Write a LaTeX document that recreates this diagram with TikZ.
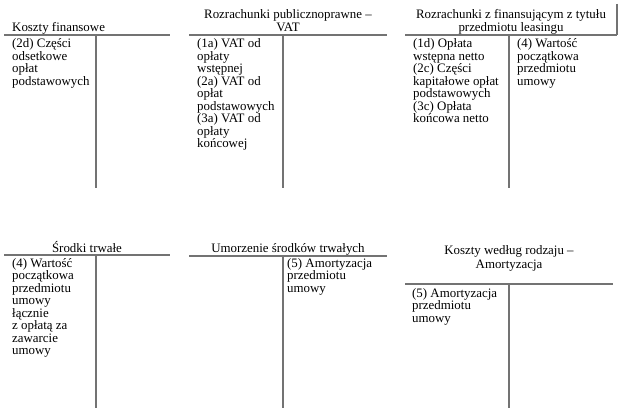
\documentclass[tikz,border=0pt]{standalone}
\usepackage{fontspec}
\setmainfont{Liberation Serif}
\definecolor{linegray}{RGB}{115,115,115}
\newcommand\acfont{\fontsize{12.9}{12.5}\selectfont\lineskiplimit=-20pt\lineskip=0pt}
\newcommand\fl{\rule{0pt}{10pt}}
\begin{document}
\begin{tikzpicture}[x=1pt,y=-1pt,
  acct/.style={draw=linegray, line width=1.1pt},
  ttl/.style={anchor=base, inner sep=0pt, font=\acfont},
  body/.style={anchor=north west, inner sep=0pt, align=left, font=\acfont}]
\fill[white] (0,0) rectangle (633,414);
\useasboundingbox (0,0) rectangle (633,414);
% table 1
\coordinate (h1a) at (4,35); \coordinate (h1b) at (170,35);
\coordinate (v1a) at (96,35); \coordinate (v1b) at (96,188);
\draw[acct] (h1a) -- (h1b); \draw[acct] (v1a) -- (v1b);
\node[ttl, anchor=base west] (t1) at (12,31.7) {Koszty finansowe};
\node[body] (b1) at (12,37.5) {\fl(2d) Części\\odsetkowe\\opłat\\podstawowych};
% table 2
\coordinate (h2a) at (189,35); \coordinate (h2b) at (387,35);
\coordinate (v2a) at (283,35); \coordinate (v2b) at (283,188);
\draw[acct] (h2a) -- (h2b); \draw[acct] (v2a) -- (v2b);
\node[ttl] (t2a) at (288,18.3) {Rozrachunki publicznoprawne –};
\node[ttl] (t2b) at (288,31.7) {VAT};
\node[body] (b2) at (197,37.5) {\fl(1a) VAT od\\opłaty\\wstępnej\\(2a) VAT od\\opłat\\podstawowych\\(3a) VAT od\\opłaty\\końcowej};
% table 3
\coordinate (h3a) at (405,35); \coordinate (h3b) at (617,35);
\coordinate (v3a) at (509,35); \coordinate (v3b) at (509,188);
\coordinate (k3) at (617,4);
\draw[acct] (h3a) -- (h3b); \draw[acct] (v3a) -- (v3b);
\draw[acct] (k3) -- (h3b);
\node[ttl] (t3a) at (511,18.3) {Rozrachunki z finansującym z tytułu};
\node[ttl] (t3b) at (511,31.7) {przedmiotu leasingu};
\node[body] (b3l) at (413,37.5) {\fl(1d) Opłata\\wstępna netto\\(2c) Części\\kapitałowe opłat\\podstawowych\\(3c) Opłata\\końcowa netto};
\node[body] (b3r) at (517,37.5) {\fl(4) Wartość\\początkowa\\przedmiotu\\umowy};
% table 4
\coordinate (h4a) at (4,255); \coordinate (h4b) at (170,255);
\coordinate (v4a) at (96,255); \coordinate (v4b) at (96,408);
\draw[acct] (h4a) -- (h4b); \draw[acct] (v4a) -- (v4b);
\node[ttl] (t4) at (87,252.3) {Środki trwałe};
\node[body] (b4) at (12,257.3) {\fl(4) Wartość\\początkowa\\przedmiotu\\umowy\\łącznie\\z opłatą za\\zawarcie\\umowy};
% table 5
\coordinate (h5a) at (189,256); \coordinate (h5b) at (387,256);
\coordinate (v5a) at (283,256); \coordinate (v5b) at (283,408);
\draw[acct] (h5a) -- (h5b); \draw[acct] (v5a) -- (v5b);
\node[ttl] (t5) at (288,252.3) {Umorzenie środków trwałych};
\node[body] (b5) at (287,257.3) {\fl(5) Amortyzacja\\przedmiotu\\umowy};
% table 6
\coordinate (h6a) at (405,284); \coordinate (h6b) at (613,284);
\coordinate (v6a) at (509,284); \coordinate (v6b) at (509,408);
\draw[acct] (h6a) -- (h6b); \draw[acct] (v6a) -- (v6b);
\node[ttl] (t6a) at (509,255) {Koszty według rodzaju –};
\node[ttl] (t6b) at (509,268.3) {Amortyzacja};
\node[body] (b6) at (412,287.3) {\fl(5) Amortyzacja\\przedmiotu\\umowy};
\end{tikzpicture}
\end{document}
